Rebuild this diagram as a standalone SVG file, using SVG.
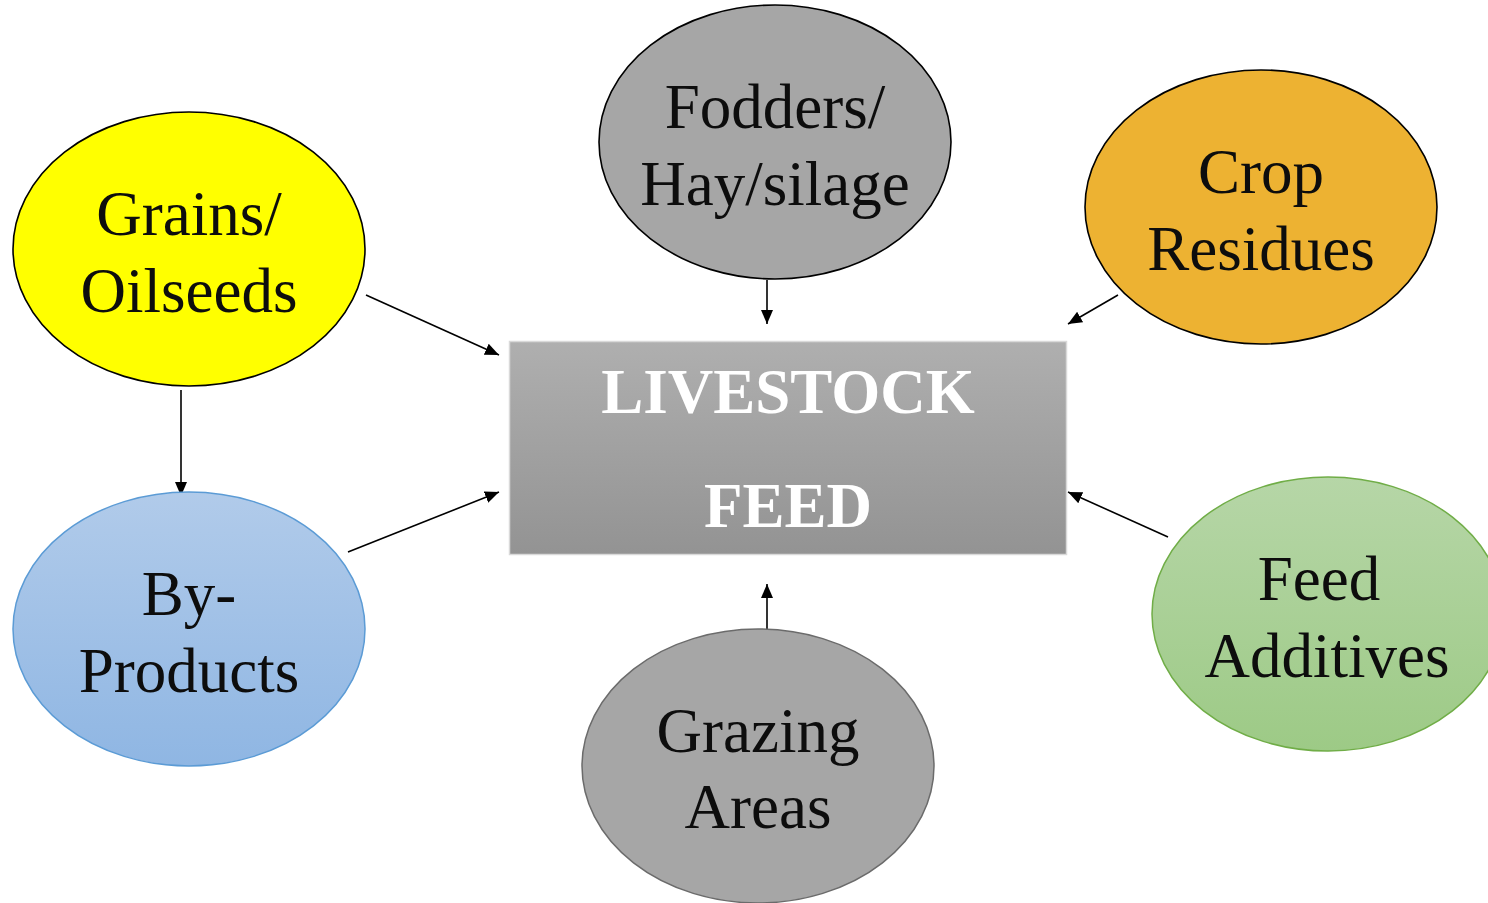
<svg xmlns="http://www.w3.org/2000/svg" width="1488" height="903" viewBox="0 0 1488 903">
<defs>
<linearGradient id="gRect" x1="0" y1="0" x2="0" y2="1"><stop offset="0" stop-color="#AFAFAF"/><stop offset="1" stop-color="#939393"/></linearGradient>
<linearGradient id="gBlue" x1="0" y1="0" x2="0" y2="1"><stop offset="0" stop-color="#B1CBEA"/><stop offset="1" stop-color="#8FB6E3"/></linearGradient>
<linearGradient id="gGreen" x1="0" y1="0" x2="0" y2="1"><stop offset="0" stop-color="#B6D6A7"/><stop offset="1" stop-color="#9DCA86"/></linearGradient>
<marker id="arr" markerUnits="userSpaceOnUse" markerWidth="16" markerHeight="14" refX="14" refY="6" orient="auto" viewBox="0 0 16 12"><path d="M0,0 L14,6 L0,12 Z" fill="#000"/></marker>
</defs>
<style>
.lbl{font-family:"Liberation Serif","Times New Roman",serif;font-size:63px;fill:#0d0d0d;text-anchor:middle}
.cen{font-family:"Liberation Serif","Times New Roman",serif;font-size:63px;font-weight:bold;fill:#fff;text-anchor:middle}
.con{stroke:#000;stroke-width:1.6;fill:none;marker-end:url(#arr)}
</style>
<rect width="1488" height="903" fill="#fff"/>
<g id="connectors">
<line class="con" x1="366" y1="295" x2="499" y2="355"/>
<line class="con" x1="767" y1="280" x2="767" y2="324"/>
<line class="con" x1="1118" y1="295" x2="1068" y2="324"/>
<line class="con" x1="181" y1="390" x2="181" y2="496"/>
<line class="con" x1="348" y1="552" x2="499" y2="492"/>
<line class="con" x1="1168" y1="537" x2="1068" y2="492"/>
<line class="con" x1="767" y1="629" x2="767" y2="584"/>
</g>
<g id="livestock-feed">
<rect x="509.5" y="341.5" width="557" height="213" fill="url(#gRect)" stroke="#D9D9D9" stroke-width="1.5"/>
<text class="cen" x="788" y="413">LIVESTOCK</text>
<text class="cen" x="788" y="527">FEED</text>
</g>
<g id="grains">
<ellipse cx="189" cy="249" rx="176" ry="137" fill="#FFFF00" stroke="#000" stroke-width="1.6"/>
<text class="lbl" x="189" y="235">Grains/</text>
<text class="lbl" x="189" y="312">Oilseeds</text>
</g>
<g id="fodders">
<ellipse cx="775" cy="142" rx="176" ry="137" fill="#A6A6A6" stroke="#000" stroke-width="1.6"/>
<text class="lbl" x="775" y="128">Fodders/</text>
<text class="lbl" x="775" y="205">Hay/silage</text>
</g>
<g id="crop-residues">
<ellipse cx="1261" cy="207" rx="176" ry="137" fill="#EDB232" stroke="#000" stroke-width="1.6"/>
<text class="lbl" x="1261" y="193">Crop</text>
<text class="lbl" x="1261" y="270">Residues</text>
</g>
<g id="by-products">
<ellipse cx="189" cy="629" rx="176" ry="137" fill="url(#gBlue)" stroke="#5B9BD5" stroke-width="1.5"/>
<text class="lbl" x="189" y="615">By-</text>
<text class="lbl" x="189" y="692">Products</text>
</g>
<g id="grazing-areas">
<ellipse cx="758" cy="766" rx="176" ry="137" fill="#A6A6A6" stroke="#6B6B6B" stroke-width="1.5"/>
<text class="lbl" x="758" y="752">Grazing</text>
<text class="lbl" x="758" y="828">Areas</text>
</g>
<g id="feed-additives">
<ellipse cx="1328" cy="614" rx="176" ry="137" fill="url(#gGreen)" stroke="#70AD47" stroke-width="1.5"/>
<text class="lbl" x="1319" y="600">Feed</text>
<text class="lbl" x="1327" y="677">Additives</text>
</g>
</svg>
